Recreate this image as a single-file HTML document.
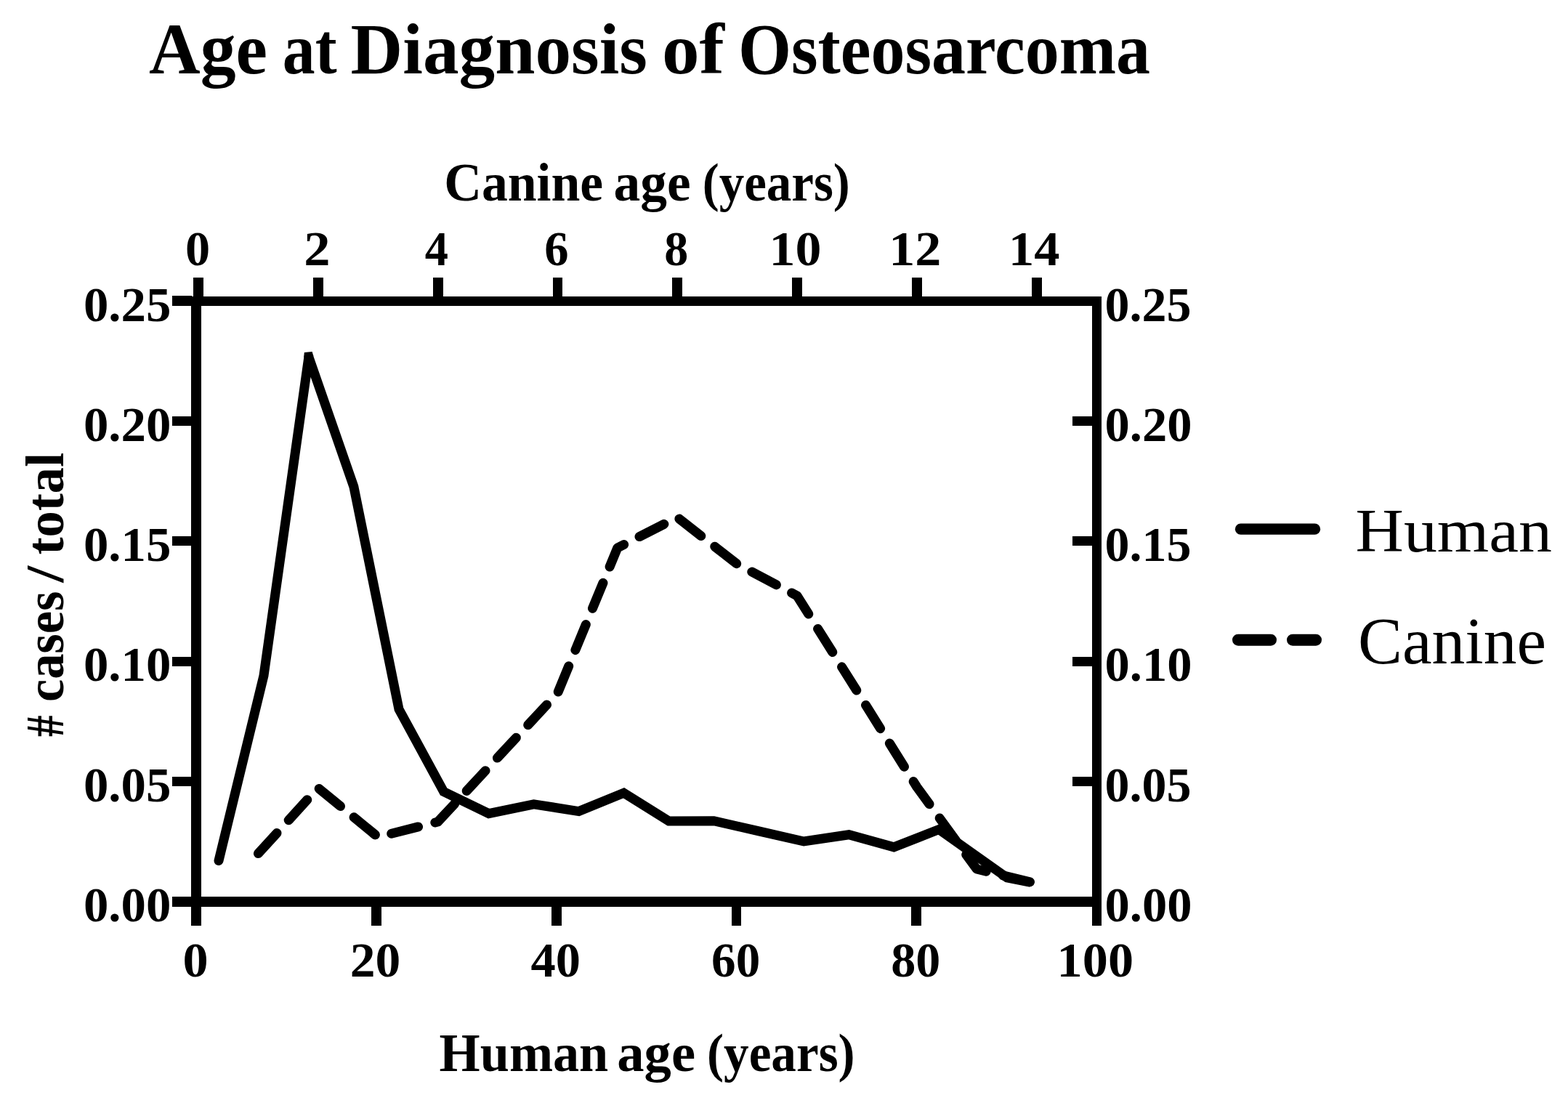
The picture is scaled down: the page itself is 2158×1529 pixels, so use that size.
<!DOCTYPE html>
<html><head><meta charset="utf-8"><title>Age at Diagnosis of Osteosarcoma</title>
<style>
html,body{margin:0;padding:0;background:#fff;overflow:hidden}
svg{display:block}
text{font-family:"Liberation Serif",serif;fill:#000;white-space:pre}
</style></head><body>
<svg width="2158" height="1529" viewBox="0 0 2158 1529">
<rect width="2158" height="1529" fill="#fff"/>
<g fill="#000" shape-rendering="crispEdges">
<rect x="263" y="408" width="14" height="866"/>
<rect x="1503" y="408" width="13" height="866"/>
<rect x="263" y="408" width="1253" height="13"/>
<rect x="263" y="1234" width="1253" height="14"/>
<rect x="237" y="1234.3" width="27" height="13.4"/>
<rect x="237" y="1069.0" width="27" height="13.4"/>
<rect x="1476" y="1069.2" width="28" height="13.0"/>
<rect x="237" y="903.5" width="27" height="13.4"/>
<rect x="1476" y="903.7" width="28" height="13.0"/>
<rect x="237" y="738.0" width="27" height="13.4"/>
<rect x="1476" y="738.2" width="28" height="13.0"/>
<rect x="237" y="572.6" width="27" height="13.4"/>
<rect x="1476" y="572.8" width="28" height="13.0"/>
<rect x="237" y="407.1" width="27" height="13.4"/>
<rect x="510.9" y="1247" width="13.8" height="27"/>
<rect x="758.7" y="1247" width="13.8" height="27"/>
<rect x="1006.5" y="1247" width="13.8" height="27"/>
<rect x="1254.3" y="1247" width="13.8" height="27"/>
<rect x="266.1" y="381.7" width="13.8" height="27.3"/>
<rect x="430.9" y="381.7" width="13.8" height="27.3"/>
<rect x="595.7" y="381.7" width="13.8" height="27.3"/>
<rect x="760.5" y="381.7" width="13.8" height="27.3"/>
<rect x="925.3" y="381.7" width="13.8" height="27.3"/>
<rect x="1090.1" y="381.7" width="13.8" height="27.3"/>
<rect x="1254.9" y="381.7" width="13.8" height="27.3"/>
<rect x="1419.7" y="381.7" width="13.8" height="27.3"/>
</g>
<g fill="none" stroke="#000" stroke-width="13" stroke-linejoin="round">
<polyline points="301,1184.5 363,929.7 424.9,491.3 486.8,669.5 549,976 610.7,1089.5 672.7,1119.7 734.6,1106.8 796.6,1116.6 858.5,1091.2 920.5,1130 982.4,1129.7 1044.4,1143.9 1106.3,1158 1168.3,1148.7 1230.2,1165.8 1292.2,1141.5 1386,1208 1416,1214" stroke-linecap="round" stroke-linejoin="miter" stroke-miterlimit="4"/>
<polygon points="418.9,485 429.6,484 431.3,489.4 430,496 420,496 418.2,490.6" fill="#000" stroke="none"/>
<polyline points="355.4,1174.6 437.8,1084.3 520.2,1152 602.6,1131 685,1042.5 767.4,954 849.8,754 932.2,712 1014.6,776.4 1097,820 1179.4,951 1261.8,1083 1344.2,1196 1426.6,1216" stroke-linecap="round" stroke-dasharray="38 24"/>
<line x1="1707.5" y1="728.2" x2="1809.5" y2="728.2" stroke-width="15.3" stroke-linecap="round"/>
<line x1="1704" y1="880.7" x2="1749" y2="880.7" stroke-width="16" stroke-linecap="round"/>
<line x1="1779" y1="880.7" x2="1811" y2="880.7" stroke-width="16" stroke-linecap="round"/>
</g>
<text y="100.8" font-size="98.5" font-weight="bold"><tspan x="205.0" textLength="163.0" lengthAdjust="spacingAndGlyphs">Age</tspan> <tspan x="388.8" textLength="74.78" lengthAdjust="spacingAndGlyphs">at</tspan> <tspan x="482.6" textLength="408.41" lengthAdjust="spacingAndGlyphs">Diagnosis</tspan> <tspan x="911.0" textLength="85.96" lengthAdjust="spacingAndGlyphs">of</tspan> <tspan x="1015.9" textLength="567.13" lengthAdjust="spacingAndGlyphs">Osteosarcoma</tspan></text>
<text y="275.75" font-size="74.4" font-weight="bold"><tspan x="611.2" textLength="218.84" lengthAdjust="spacingAndGlyphs">Canine</tspan> <tspan x="844.6" textLength="106.1" lengthAdjust="spacingAndGlyphs">age</tspan> <tspan x="966.7" textLength="203.07" lengthAdjust="spacingAndGlyphs">(years)</tspan></text>
<text y="1474" font-size="74.8" font-weight="bold"><tspan x="604.6" textLength="232.69" lengthAdjust="spacingAndGlyphs">Human</tspan> <tspan x="849.3" textLength="107.73" lengthAdjust="spacingAndGlyphs">age</tspan> <tspan x="973.0" textLength="203.66" lengthAdjust="spacingAndGlyphs">(years)</tspan></text>
<text x="255.1" y="365.4" font-size="67.5" font-weight="bold" textLength="34.18" lengthAdjust="spacingAndGlyphs">0</text>
<text x="418.3" y="365.4" font-size="67.5" font-weight="bold" textLength="36.3" lengthAdjust="spacingAndGlyphs">2</text>
<text x="584.8" y="365.4" font-size="67.5" font-weight="bold" textLength="32.22" lengthAdjust="spacingAndGlyphs">4</text>
<text x="749.2" y="365.4" font-size="67.5" font-weight="bold" textLength="33.32" lengthAdjust="spacingAndGlyphs">6</text>
<text x="914.2" y="365.4" font-size="67.5" font-weight="bold" textLength="32.99" lengthAdjust="spacingAndGlyphs">8</text>
<text x="1058.5" y="365.4" font-size="67.5" font-weight="bold" textLength="71.99" lengthAdjust="spacingAndGlyphs">10</text>
<text x="1223.2" y="365.4" font-size="67.5" font-weight="bold" textLength="72.2" lengthAdjust="spacingAndGlyphs">12</text>
<text x="1388.1" y="365.4" font-size="67.5" font-weight="bold" textLength="70.49" lengthAdjust="spacingAndGlyphs">14</text>
<text x="251.5" y="1344.3" font-size="67.5" font-weight="bold" textLength="35.16" lengthAdjust="spacingAndGlyphs">0</text>
<text x="481.8" y="1344.3" font-size="67.5" font-weight="bold" textLength="69.6" lengthAdjust="spacingAndGlyphs">20</text>
<text x="730.6" y="1344.3" font-size="67.5" font-weight="bold" textLength="68.51" lengthAdjust="spacingAndGlyphs">40</text>
<text x="979.1" y="1344.3" font-size="67.5" font-weight="bold" textLength="67.18" lengthAdjust="spacingAndGlyphs">60</text>
<text x="1226.2" y="1344.3" font-size="67.5" font-weight="bold" textLength="68.18" lengthAdjust="spacingAndGlyphs">80</text>
<text x="1454.6" y="1344.3" font-size="67.5" font-weight="bold" textLength="105.45" lengthAdjust="spacingAndGlyphs">100</text>
<text x="114.9" y="1267.6" font-size="67" font-weight="bold" textLength="120.46" lengthAdjust="spacingAndGlyphs">0.00</text>
<text x="1520.6" y="1267.6" font-size="67" font-weight="bold" textLength="119.96" lengthAdjust="spacingAndGlyphs">0.00</text>
<text x="114.9" y="1102.9" font-size="67" font-weight="bold" textLength="120.46" lengthAdjust="spacingAndGlyphs">0.05</text>
<text x="1520.6" y="1102.9" font-size="67" font-weight="bold" textLength="118.92" lengthAdjust="spacingAndGlyphs">0.05</text>
<text x="114.9" y="936.8" font-size="67" font-weight="bold" textLength="120.46" lengthAdjust="spacingAndGlyphs">0.10</text>
<text x="1520.6" y="936.8" font-size="67" font-weight="bold" textLength="119.96" lengthAdjust="spacingAndGlyphs">0.10</text>
<text x="114.9" y="771.6" font-size="67" font-weight="bold" textLength="120.46" lengthAdjust="spacingAndGlyphs">0.15</text>
<text x="1520.6" y="771.6" font-size="67" font-weight="bold" textLength="118.92" lengthAdjust="spacingAndGlyphs">0.15</text>
<text x="114.9" y="606.8" font-size="67" font-weight="bold" textLength="120.46" lengthAdjust="spacingAndGlyphs">0.20</text>
<text x="1520.6" y="606.8" font-size="67" font-weight="bold" textLength="119.96" lengthAdjust="spacingAndGlyphs">0.20</text>
<text x="114.9" y="442.0" font-size="67" font-weight="bold" textLength="120.46" lengthAdjust="spacingAndGlyphs">0.25</text>
<text x="1520.6" y="442.0" font-size="67" font-weight="bold" textLength="118.92" lengthAdjust="spacingAndGlyphs">0.25</text>
<text x="1865.6" y="759" font-size="85.5" font-weight="normal" textLength="270.4" lengthAdjust="spacingAndGlyphs">Human</text>
<text x="1869.0" y="912.7" font-size="90" font-weight="normal" textLength="259.0" lengthAdjust="spacingAndGlyphs">Canine</text>
<text transform="rotate(-90)" y="87" font-size="73" font-weight="bold"><tspan x="-1014.0" textLength="29.55" lengthAdjust="spacingAndGlyphs">#</tspan> <tspan x="-966.1" textLength="152.54" lengthAdjust="spacingAndGlyphs">cases</tspan> <tspan x="-801.7" textLength="23.03" lengthAdjust="spacingAndGlyphs">/</tspan> <tspan x="-763.6" textLength="140.8" lengthAdjust="spacingAndGlyphs">total</tspan></text>
</svg>
</body></html>
